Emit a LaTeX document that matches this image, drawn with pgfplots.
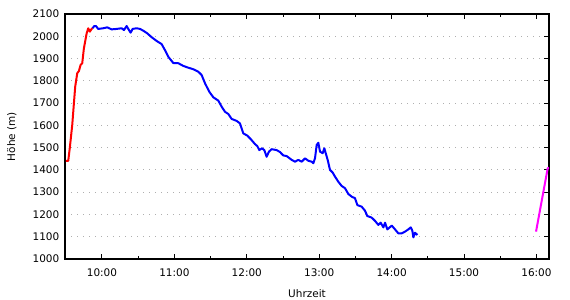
\documentclass[border=0pt]{standalone}
\usepackage{fontspec}
\setmainfont{DejaVu Sans}
\usepackage{pgfplots}
\pgfplotsset{compat=1.18}
\definecolor{gridgray}{RGB}{175,175,175}
\definecolor{cred}{RGB}{255,0,0}
\definecolor{cblue}{RGB}{0,0,255}
\definecolor{cmag}{RGB}{255,0,255}
\begin{document}
\fontsize{10.5}{12}\selectfont
\begin{tikzpicture}
\useasboundingbox (0,0) rectangle (570bp,300bp);
\begin{axis}[
  at={(65bp,41bp)}, anchor=south west,
  scale only axis,
  width=484bp, height=245bp,
  xmin=9.49, xmax=16.173,
  ymin=1000, ymax=2100,
  xtick={10,11,12,13,14,15,16},
  xticklabels={10:00,11:00,12:00,13:00,14:00,15:00,16:00},
  minor xtick={9.5,10.5,11.5,12.5,13.5,14.5,15.5},
  ytick={1000,1100,...,2100},
  ytick pos=right, yticklabel pos=left,
  xtick pos=both, xticklabel pos=lower,
  tick align=inside,
  major tick length=5bp, minor tick length=3bp,
  tick style={black, line width=0.9pt},
  axis line style={black, line width=1.3pt},
  ymajorgrids,
  major grid style={gridgray, line width=1bp, dash pattern=on 1bp off 5bp},
  /pgf/number format/assume math mode=true,
  /pgf/number format/1000 sep={},
  ticklabel style={font=\fontsize{10.5}{12}\selectfont},
  xticklabel style={yshift=-6bp},
  yticklabel style={xshift=-2bp},
  xlabel={Uhrzeit}, ylabel={Höhe (m)},
  label style={font=\fontsize{10.5}{12}\selectfont},
  xlabel style={yshift=-6bp},
  ylabel style={yshift=9bp},
  clip=true,
]
\addplot[cred, line width=2bp, line join=round] coordinates {
(9.503,1441) (9.535,1441) (9.558,1504) (9.590,1602) (9.613,1699) (9.631,1774)
(9.659,1834) (9.682,1844) (9.705,1871) (9.728,1879) (9.751,1946) (9.789,2013)
(9.811,2036) (9.834,2021) (9.857,2033) (9.871,2036)
};
\addplot[cblue, line width=2bp, line join=round] coordinates {
(9.871,2036) (9.894,2046) (9.917,2046) (9.949,2033) (10.018,2036) (10.073,2040)
(10.134,2031) (10.203,2033) (10.272,2036) (10.304,2028) (10.341,2046) (10.373,2028)
(10.396,2016) (10.424,2033) (10.479,2036) (10.525,2033) (10.571,2025) (10.626,2013)
(10.686,1996) (10.755,1979) (10.824,1965) (10.870,1938) (10.916,1908) (10.985,1880)
(11.054,1879) (11.123,1867) (11.192,1859) (11.261,1852) (11.330,1841) (11.377,1826)
(11.423,1789) (11.482,1751) (11.538,1726) (11.607,1711) (11.653,1684) (11.699,1661)
(11.745,1651) (11.791,1629) (11.860,1620) (11.906,1609) (11.952,1564) (12.007,1554)
(12.058,1537) (12.113,1516) (12.145,1507) (12.173,1489) (12.210,1497) (12.242,1489)
(12.274,1459) (12.306,1482) (12.344,1493) (12.413,1489) (12.459,1480) (12.504,1465)
(12.551,1462) (12.620,1445) (12.666,1437) (12.712,1445) (12.758,1437) (12.804,1452)
(12.850,1441) (12.896,1437) (12.919,1430) (12.942,1452) (12.965,1512) (12.988,1522)
(13.011,1482) (13.048,1475) (13.071,1497) (13.090,1475) (13.117,1445) (13.149,1400)
(13.186,1388) (13.218,1370) (13.264,1347) (13.310,1328) (13.356,1318) (13.402,1292)
(13.448,1280) (13.494,1273) (13.527,1242) (13.586,1235) (13.632,1217) (13.664,1193)
(13.724,1186) (13.771,1171) (13.817,1153) (13.849,1163) (13.886,1142) (13.909,1163)
(13.941,1133) (14.002,1150) (14.047,1133) (14.093,1115) (14.139,1115) (14.185,1123)
(14.231,1133) (14.264,1142) (14.286,1127) (14.300,1097) (14.323,1118) (14.355,1108)
};
\addplot[cmag, line width=2bp] coordinates {
(15.994,1123) (16.155,1407) (16.173,1410)
};
\end{axis}
\end{tikzpicture}
\end{document}
